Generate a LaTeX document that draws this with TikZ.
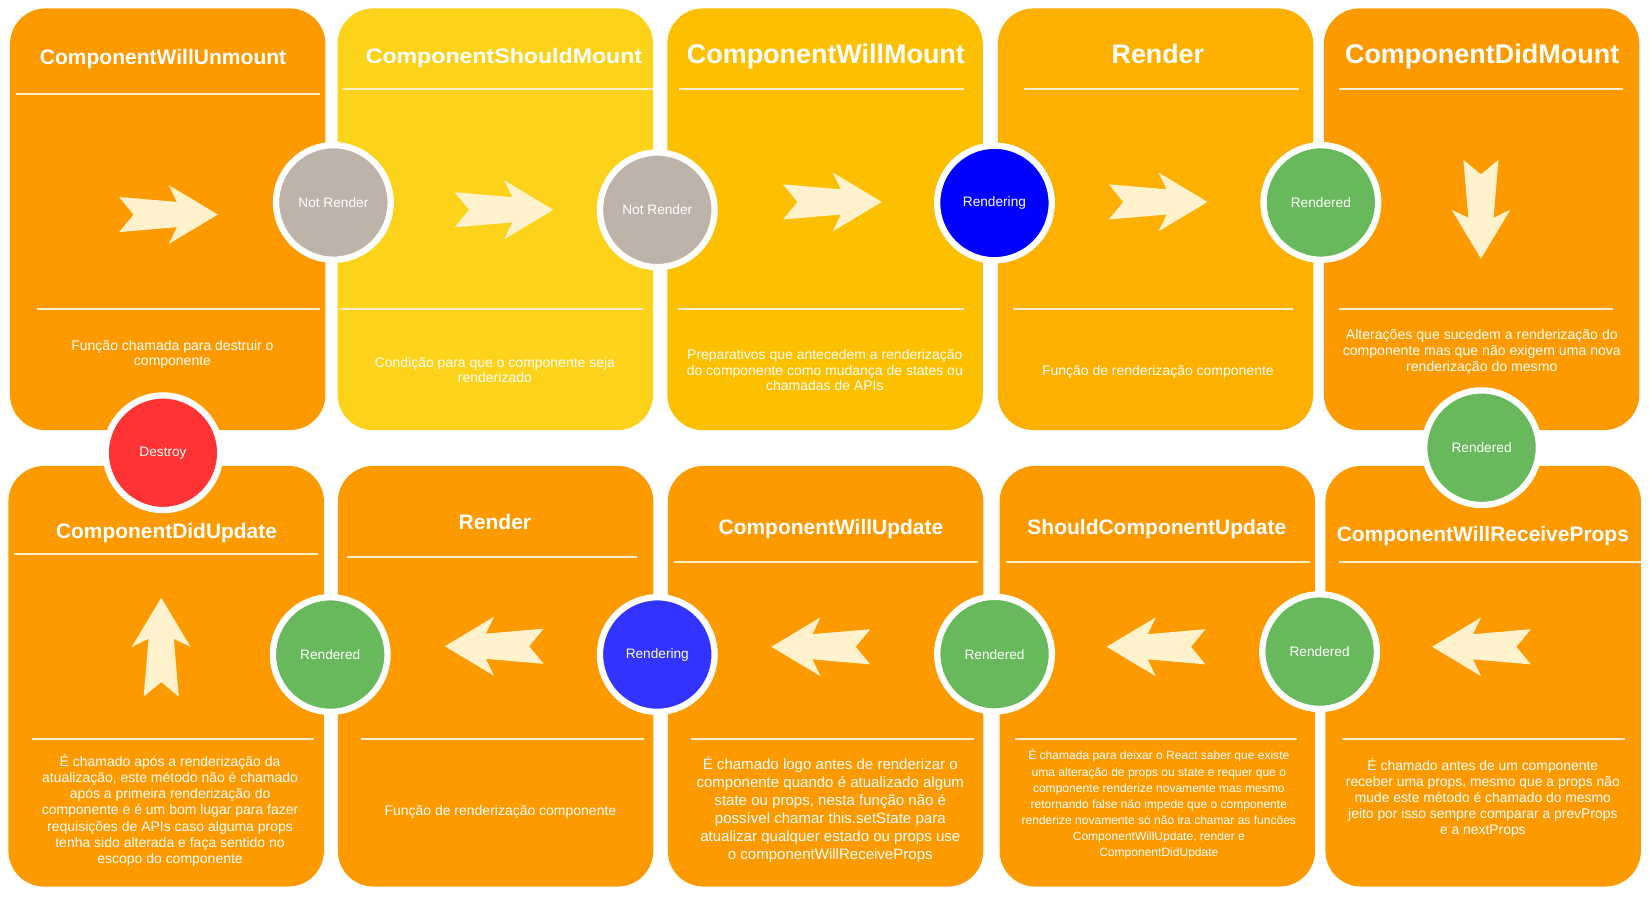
\documentclass[tikz,border=0pt]{standalone}
\usepackage{fontspec}
\setmainfont{Liberation Sans}
\usepackage{graphicx}

\definecolor{corange}{RGB}{252,154,0}
\definecolor{cyellow}{RGB}{252,210,26}
\definecolor{camber}{RGB}{253,192,0}
\definecolor{cgold}{RGB}{253,176,0}
\definecolor{cgrey}{RGB}{190,179,168}
\definecolor{cblue}{RGB}{0,0,255}
\definecolor{cblueb}{RGB}{51,51,255}
\definecolor{cgreen}{RGB}{104,185,92}
\definecolor{cred}{RGB}{255,51,51}
\definecolor{arrowcol}{RGB}{255,242,204}
\definecolor{rulecol}{RGB}{255,238,205}

\tikzset{
  card/.style={rounded corners=34pt, minimum width=300pt, inner sep=0pt, draw=none},
  state/.style={circle, draw=white, line width=6pt, minimum size=109pt, inner sep=0pt,
    text=white, font=\fontsize{13}{15}\selectfont},
  ttl/.style={anchor=base, text=white, inner sep=0pt, font={\fontsize{#1}{#1}\selectfont\bfseries}},
  % descriptions are placed by the baseline of their last line
  body/.style args={#1/#2}{anchor=base, align=center, text=white, inner sep=0pt,
    font={\fontsize{#1}{#2}\selectfont}},
  rule/.style={draw=rulecol, line width=1.8pt},
  stylarrow/.pic={\fill[arrowcol] (0,-16.7) -- (13.8,0) -- (0,16.7) -- (55,12) -- (47.3,28)
    -- (94,0) -- (47.3,-28) -- (55,-12) -- cycle;}
}

\begin{document}
\begin{tikzpicture}[x=1pt,y=-1pt]
\useasboundingbox[fill=white] (0,0) rectangle (1568,852);

% ---- lifecycle cards, mounting row ----
\node[card, minimum height=401pt, fill=corange] (b1) at (159.5,208.5) {};
\node[card, minimum height=401pt, fill=cyellow] (b2) at (471,208.5) {};
\node[card, minimum height=401pt, fill=camber]  (b3) at (784.5,208.5) {};
\node[card, minimum height=401pt, fill=cgold]   (b4) at (1098.8,208.5) {};
\node[card, minimum height=401pt, fill=corange] (b5) at (1408.8,208.5) {};
% ---- updating row ----
\node[card, minimum height=400pt, fill=corange] (b6) at (158,643) {};
\node[card, minimum height=400pt, fill=corange] (b7) at (471.2,643) {};
\node[card, minimum height=400pt, fill=corange] (b8) at (785,643) {};
\node[card, minimum height=400pt, fill=corange] (b9) at (1100.5,643) {};
\node[card, minimum height=400pt, fill=corange] (b10) at (1410.3,643) {};

% ---- separator rules ----
\draw[rule] (15.2,89.7) -- (304,89.7);   \draw[rule] (35.2,294) -- (304,294);
\draw[rule] (326,85) -- (621,85);        \draw[rule] (323.3,294) -- (611.5,294);
\draw[rule] (645.3,85) -- (917,85);      \draw[rule] (645,294) -- (916.6,294);
\draw[rule] (973.4,85) -- (1235,85);     \draw[rule] (963.4,294) -- (1229.5,294);
\draw[rule] (1273.5,85) -- (1543.5,85);  \draw[rule] (1273.5,294) -- (1534,294);
\draw[rule] (13.2,527) -- (302,527);     \draw[rule] (30.8,703) -- (299,703);
\draw[rule] (330,530) -- (606,530);      \draw[rule] (343.3,703) -- (612.3,703);
\draw[rule] (640.9,534.4) -- (929.8,534.4); \draw[rule] (657.2,703) -- (926,703);
\draw[rule] (957,534.4) -- (1245.6,534.4);  \draw[rule] (965,703) -- (1233.5,703);
\draw[rule] (1273.5,534.4) -- (1560,534.4); \draw[rule] (1276.3,703) -- (1545,703);

% ---- flow arrows ----
\pic at (113.2,204) {stylarrow};
\pic at (432.2,199.5) {stylarrow};
\pic at (744.5,192) {stylarrow};
\pic at (1054.3,192) {stylarrow};
\pic[rotate=-90] at (1408.2,152) {stylarrow};
\pic[rotate=90] at (153.3,662.4) {stylarrow};
\pic[rotate=180] at (517,614.5) {stylarrow};
\pic[rotate=180] at (827.5,615) {stylarrow};
\pic[rotate=180] at (1146.3,615) {stylarrow};
\pic[rotate=180] at (1455.7,615) {stylarrow};

% ---- titles ----
\node[ttl=20] (t1) at (155,61) {ComponentWillUnmount};
\node[ttl=20] (t2) at (479.2,60.2) {\scalebox{1.1}[1]{ComponentShouldMount}};
\node[ttl=25.6] (t3) at (785.3,60.2) {ComponentWillMount};
\node[ttl=25.5] (t4) at (1101,60.2) {Render};
\node[ttl=25.65] (t5) at (1409.3,60.2) {ComponentDidMount};
\node[ttl=19.9] (t6) at (158.3,512.5) {ComponentDidUpdate};
\node[ttl=20] (t7) at (470.6,503.3) {Render};
\node[ttl=19.93] (t8) at (790.1,508) {ComponentWillUpdate};
\node[ttl=19.95] (t9) at (1100,508) {ShouldComponentUpdate};
\node[ttl=19.93] (t10) at (1410,515) {ComponentWillReceiveProps};

% ---- descriptions ----
\node[body=13.3/14.6] (d1) at (164,348) {Função chamada para destruir o\\componente};
\node[body=13.3/14.6] (d2) at (470.6,363.9) {Condição para que o componente seja\\renderizado};
\node[body=13.3/14.9] (d3) at (784.3,371.5) {Preparativos que antecedem a renderização\\do componente como mudança de states ou\\chamadas de APIs};
\node[body=13.3/14.9] (d4) at (1101,356.6) {Função de renderização componente};
\node[body=13.4/15.1] (d5) at (1409,352.8) {Alterações que sucedem a renderização do\\componente mas que não exigem uma nova\\renderização do mesmo};
\node[body=13.3/15.3] (d6) at (161.7,820.8) {É chamado após a renderização da\\atualização, este método não é chamado\\após a primeira renderização do\\componente e é um bom lugar para fazer\\requisições de APIs caso alguma props\\tenha sido alterada e faça sentido no\\escopo do componente};
\node[body=13.3/15] (d7) at (475.8,775) {Função de renderização componente};
\node[body=14.3/17.1] (d8) at (789.5,817.5) {É chamado logo antes de renderizar o\\componente quando é atualizado algum\\state ou props, nesta função não é\\possível chamar this.setState para\\atualizar qualquer estado ou props use\\o componentWillReceiveProps};
\node[body=11.45/15.3] (d9) at (1101.9,814.4) {É chamada para deixar o React saber que existe\\uma alteração de props ou state e requer que o\\componente renderize novamente mas mesmo\\retornando false não impede que o componente\\renderize novamente só não ira chamar as funcões\\ComponentWillUpdate, render e\\ComponentDidUpdate};
\node[body=13.2/15.2] (d10) at (1410,793.9) {É chamado antes de um componente\\receber uma props, mesmo que a props não\\mude este método é chamado do mesmo\\jeito por isso sempre comparar a prevProps\\e a nextProps};

% ---- render states between the stages ----
\node[state, fill=cgrey]  (s1) at (317,192.5) {Not Render};
\node[state, fill=cgrey]  (s2) at (625,199.5) {Not Render};
\node[state, fill=cblue]  (s3) at (945.6,193) {Rendering};
\node[state, fill=cgreen] (s4) at (1256,192.5) {Rendered};
\node[state, fill=cgreen] (s5) at (1408.8,425.7) {Rendered};
\node[state, fill=cred]   (s6) at (155,430.5) {Destroy};
\node[state, fill=cgreen] (s7) at (314,622.4) {Rendered};
\node[state, fill=cblueb] (s8) at (625,622.4) {Rendering};
\node[state, fill=cgreen] (s9) at (945.7,622) {Rendered};
\node[state, fill=cgreen] (s10) at (1254.8,619.6) {Rendered};
\end{tikzpicture}
\end{document}
